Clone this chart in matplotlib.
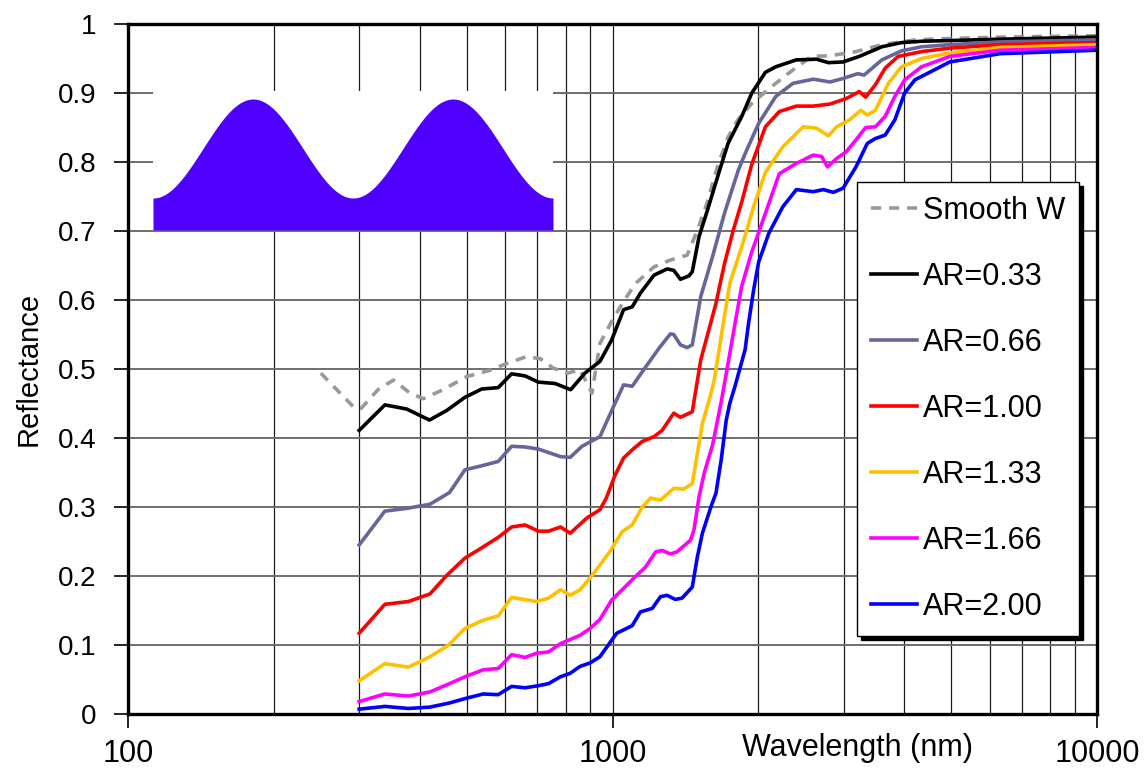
import matplotlib.pyplot as plt
import numpy as np
from matplotlib.ticker import LogLocator, FixedLocator, FuncFormatter, NullFormatter

plt.rcParams['font.family'] = ['Liberation Sans', 'DejaVu Sans']

# Smooth W reference spectrum
wl_smooth = [250, 274, 294, 303, 328, 353, 382, 407, 447, 500, 558, 605, 665, 709,
             756, 808, 857, 907, 942, 996, 1054, 1116, 1218, 1317, 1426, 1497, 1570,
             1648, 1732, 1818, 1939, 2103, 2302, 2575, 2812, 3181, 3598, 4207, 4968,
             6309, 10000]
r_smooth = [0.494, 0.465, 0.443, 0.443, 0.470, 0.484, 0.465, 0.457, 0.470, 0.489,
            0.498, 0.508, 0.518, 0.515, 0.501, 0.494, 0.499, 0.465, 0.537, 0.569,
            0.598, 0.624, 0.648, 0.658, 0.665, 0.701, 0.742, 0.794, 0.836, 0.862,
            0.885, 0.906, 0.928, 0.953, 0.954, 0.960, 0.970, 0.977, 0.979, 0.981,
            0.983]

# AR = 0.33
wl_a033 = [300, 339, 376, 419, 455, 496, 537, 581, 619, 660, 703, 761, 820, 877, 942,
           996, 1054, 1098, 1142, 1218, 1296, 1338, 1381, 1438, 1461, 1509, 1570, 1662,
           1732, 1848, 1939, 2003, 2068, 2173, 2396, 2637, 2790, 2991, 3230, 3598,
           3946, 4345, 4968, 6309, 10000]
r_a033 = [0.411, 0.448, 0.442, 0.426, 0.440, 0.459, 0.471, 0.473, 0.493, 0.490,
          0.481, 0.479, 0.470, 0.494, 0.511, 0.542, 0.586, 0.590, 0.610, 0.636,
          0.645, 0.643, 0.630, 0.635, 0.641, 0.692, 0.730, 0.787, 0.827, 0.866,
          0.900, 0.915, 0.930, 0.938, 0.948, 0.949, 0.944, 0.945, 0.953, 0.967,
          0.973, 0.975, 0.976, 0.978, 0.981]

# AR = 0.66
wl_a066 = [300, 339, 376, 420, 461, 496, 532, 581, 619, 660, 703, 781, 818, 865, 942,
           1004, 1054, 1098, 1160, 1247, 1317, 1338, 1381, 1426, 1461, 1521, 1609,
           1703, 1818, 1878, 2003, 2173, 2358, 2596, 2812, 2991, 3206, 3306, 3598,
           3946, 4345, 4968, 6309, 10000]
r_a066 = [0.245, 0.294, 0.298, 0.304, 0.321, 0.354, 0.359, 0.366, 0.388, 0.387,
          0.384, 0.373, 0.372, 0.388, 0.402, 0.445, 0.477, 0.475, 0.499, 0.530,
          0.551, 0.550, 0.535, 0.531, 0.535, 0.605, 0.663, 0.726, 0.788, 0.812,
          0.856, 0.895, 0.914, 0.920, 0.916, 0.921, 0.928, 0.926, 0.948, 0.961,
          0.967, 0.970, 0.974, 0.977]

# AR = 1.00
wl_a100 = [300, 339, 379, 420, 455, 496, 532, 581, 619, 660, 703, 738, 781, 818, 885,
           942, 971, 1012, 1054, 1107, 1152, 1218, 1266, 1338, 1381, 1461, 1521, 1635,
           1703, 1775, 1848, 1939, 2068, 2209, 2396, 2596, 2812, 3038, 3230, 3331,
           3488, 3654, 3886, 4345, 4968, 6309, 10000]
r_a100 = [0.117, 0.159, 0.163, 0.174, 0.201, 0.226, 0.239, 0.256, 0.271, 0.274,
          0.265, 0.265, 0.271, 0.262, 0.284, 0.296, 0.313, 0.346, 0.371, 0.385,
          0.395, 0.402, 0.411, 0.436, 0.430, 0.438, 0.513, 0.595, 0.653, 0.701,
          0.742, 0.797, 0.851, 0.873, 0.881, 0.881, 0.884, 0.892, 0.902, 0.894,
          0.912, 0.936, 0.953, 0.960, 0.965, 0.970, 0.973]

# AR = 1.33
wl_a133 = [300, 339, 379, 420, 459, 496, 541, 581, 619, 697, 738, 781, 818, 857, 899,
           942, 987, 1046, 1098, 1152, 1198, 1256, 1338, 1403, 1461, 1497, 1533, 1583,
           1622, 1676, 1746, 1848, 1955, 2068, 2246, 2475, 2637, 2790, 2901, 3085,
           3255, 3357, 3488, 3710, 3946, 4345, 4968, 6309, 10000]
r_a133 = [0.048, 0.073, 0.068, 0.083, 0.100, 0.124, 0.136, 0.142, 0.169, 0.163,
          0.168, 0.180, 0.172, 0.180, 0.197, 0.216, 0.235, 0.264, 0.274, 0.300,
          0.313, 0.310, 0.327, 0.326, 0.334, 0.378, 0.421, 0.455, 0.484, 0.547,
          0.624, 0.677, 0.735, 0.785, 0.822, 0.851, 0.849, 0.838, 0.851, 0.861,
          0.875, 0.868, 0.875, 0.914, 0.938, 0.950, 0.958, 0.966, 0.970]

# AR = 1.66
wl_a166 = [300, 339, 379, 420, 461, 500, 541, 581, 619, 660, 697, 738, 781, 857, 899,
           942, 996, 1054, 1107, 1170, 1228, 1266, 1317, 1359, 1449, 1473, 1509, 1546,
           1609, 1648, 1676, 1732, 1790, 1848, 1939, 2103, 2209, 2396, 2596, 2702,
           2777, 2901, 3038, 3181, 3331, 3488, 3654, 3826, 4009, 4345, 4968, 6309,
           10000]
r_a166 = [0.018, 0.029, 0.026, 0.032, 0.044, 0.055, 0.064, 0.066, 0.086, 0.082,
          0.088, 0.090, 0.102, 0.114, 0.124, 0.137, 0.165, 0.182, 0.197, 0.213,
          0.235, 0.237, 0.232, 0.235, 0.252, 0.267, 0.315, 0.349, 0.390, 0.426,
          0.452, 0.508, 0.566, 0.620, 0.670, 0.740, 0.783, 0.798, 0.810, 0.808,
          0.793, 0.805, 0.815, 0.832, 0.850, 0.851, 0.866, 0.895, 0.919, 0.938,
          0.953, 0.962, 0.966]

# AR = 2.00
wl_a200 = [300, 339, 379, 420, 461, 500, 541, 581, 619, 660, 703, 738, 781, 818, 857,
           899, 942, 1020, 1098, 1142, 1208, 1256, 1296, 1348, 1392, 1461, 1497, 1533,
           1596, 1635, 1676, 1717, 1746, 1790, 1878, 1908, 1955, 2003, 2103, 2246,
           2396, 2596, 2724, 2857, 2991, 3181, 3357, 3488, 3654, 3826, 4009, 4207,
           4968, 6309, 10000]
r_a200 = [0.007, 0.011, 0.008, 0.010, 0.016, 0.023, 0.029, 0.028, 0.040, 0.038,
          0.041, 0.044, 0.054, 0.059, 0.069, 0.074, 0.083, 0.117, 0.128, 0.148,
          0.153, 0.170, 0.172, 0.166, 0.168, 0.184, 0.228, 0.262, 0.300, 0.320,
          0.368, 0.426, 0.450, 0.475, 0.528, 0.565, 0.614, 0.655, 0.697, 0.735,
          0.760, 0.757, 0.760, 0.756, 0.762, 0.793, 0.827, 0.834, 0.839, 0.861,
          0.900, 0.919, 0.945, 0.957, 0.962]

series = [
    (wl_a033, r_a033, 'AR=0.33', 'black'),
    (wl_a066, r_a066, 'AR=0.66', '#666699'),
    (wl_a100, r_a100, 'AR=1.00', '#ff0000'),
    (wl_a133, r_a133, 'AR=1.33', '#ffc000'),
    (wl_a166, r_a166, 'AR=1.66', '#ff00ff'),
    (wl_a200, r_a200, 'AR=2.00', '#0000ff'),
]

fig = plt.figure(figsize=(11.45, 7.74), dpi=100)
ax = fig.add_axes([128 / 1145, 60 / 774, 969 / 1145, 690 / 774])

ax.plot(wl_smooth, r_smooth, color='#999999', lw=2.6, dashes=(2.8, 2.2),
        label='Smooth W')
for wl, r, name, col in series:
    ax.plot(wl, r, color=col, lw=2.6, label=name)

ax.set_xscale('log')
ax.set_xlim(100, 10000)
ax.set_ylim(0, 1)

# grid: every decade subdivision vertically, 0.1 steps horizontally
ax.xaxis.set_major_locator(FixedLocator([100, 1000, 10000]))
ax.xaxis.set_minor_locator(LogLocator(base=10, subs=range(2, 10)))
ax.xaxis.set_minor_formatter(NullFormatter())
ax.xaxis.set_major_formatter(FuncFormatter(lambda v, p: '%d' % v))
ax.set_yticks(np.arange(0, 1.01, 0.1))
ax.yaxis.set_major_formatter(FuncFormatter(
    lambda v, p: '%d' % round(v) if abs(v - round(v)) < 1e-6 else '%.1f' % v))

ax.grid(axis='x', which='both', color='#1a1a1a', lw=0.9)
ax.grid(axis='y', which='major', color='#6e6e6e', lw=1.4)
ax.set_axisbelow(True)

ax.tick_params(axis='x', which='major', direction='out', length=10, width=1.2,
               pad=8, labelsize=22)
ax.tick_params(axis='x', which='minor', length=0)
ax.tick_params(axis='y', direction='out', length=10, width=1.2, pad=13,
               labelsize=20)
for s in ax.spines.values():
    s.set_linewidth(2.4)
    s.set_color('black')

ax.set_ylabel('Reflectance', fontsize=21, labelpad=11)
fig.text(857 / 1145, 1 - 748 / 774, 'Wavelength (nm)', fontsize=22,
         ha='center', va='center')

leg = ax.legend(loc='upper left', bbox_to_anchor=(857 / 1145, 1 - 182 / 774),
                bbox_transform=fig.transFigure, borderaxespad=0, fontsize=22,
                frameon=True, fancybox=False, framealpha=1, edgecolor='black',
                handlelength=1.5, handletextpad=0.22, labelspacing=1.18,
                borderpad=0.45,
                shadow={'ox': 3, 'oy': -3, 'facecolor': 'black',
                        'edgecolor': 'black', 'alpha': 1})
leg.get_frame().set_linewidth(1.0)

# inset sketch of the sinusoidal surface profile
period = 200.0
trough, peak = 32.0, 131.0
ins = fig.add_axes([153 / 1145, 1 - 230 / 774, 400 / 1145, 139 / 774])
ins.set_facecolor('white')
xs = np.linspace(0, 2 * period, 400)
ys = trough + (peak - trough) * (1 - np.cos(2 * np.pi * xs / period)) / 2
ins.fill_between(xs, 0, ys, color='#5000ff', lw=0)
ins.set_xlim(0, 2 * period)
ins.set_ylim(0, 139)
ins.set_xticks([])
ins.set_yticks([])
for s in ins.spines.values():
    s.set_visible(False)

fig.savefig('out.png', dpi=100)
